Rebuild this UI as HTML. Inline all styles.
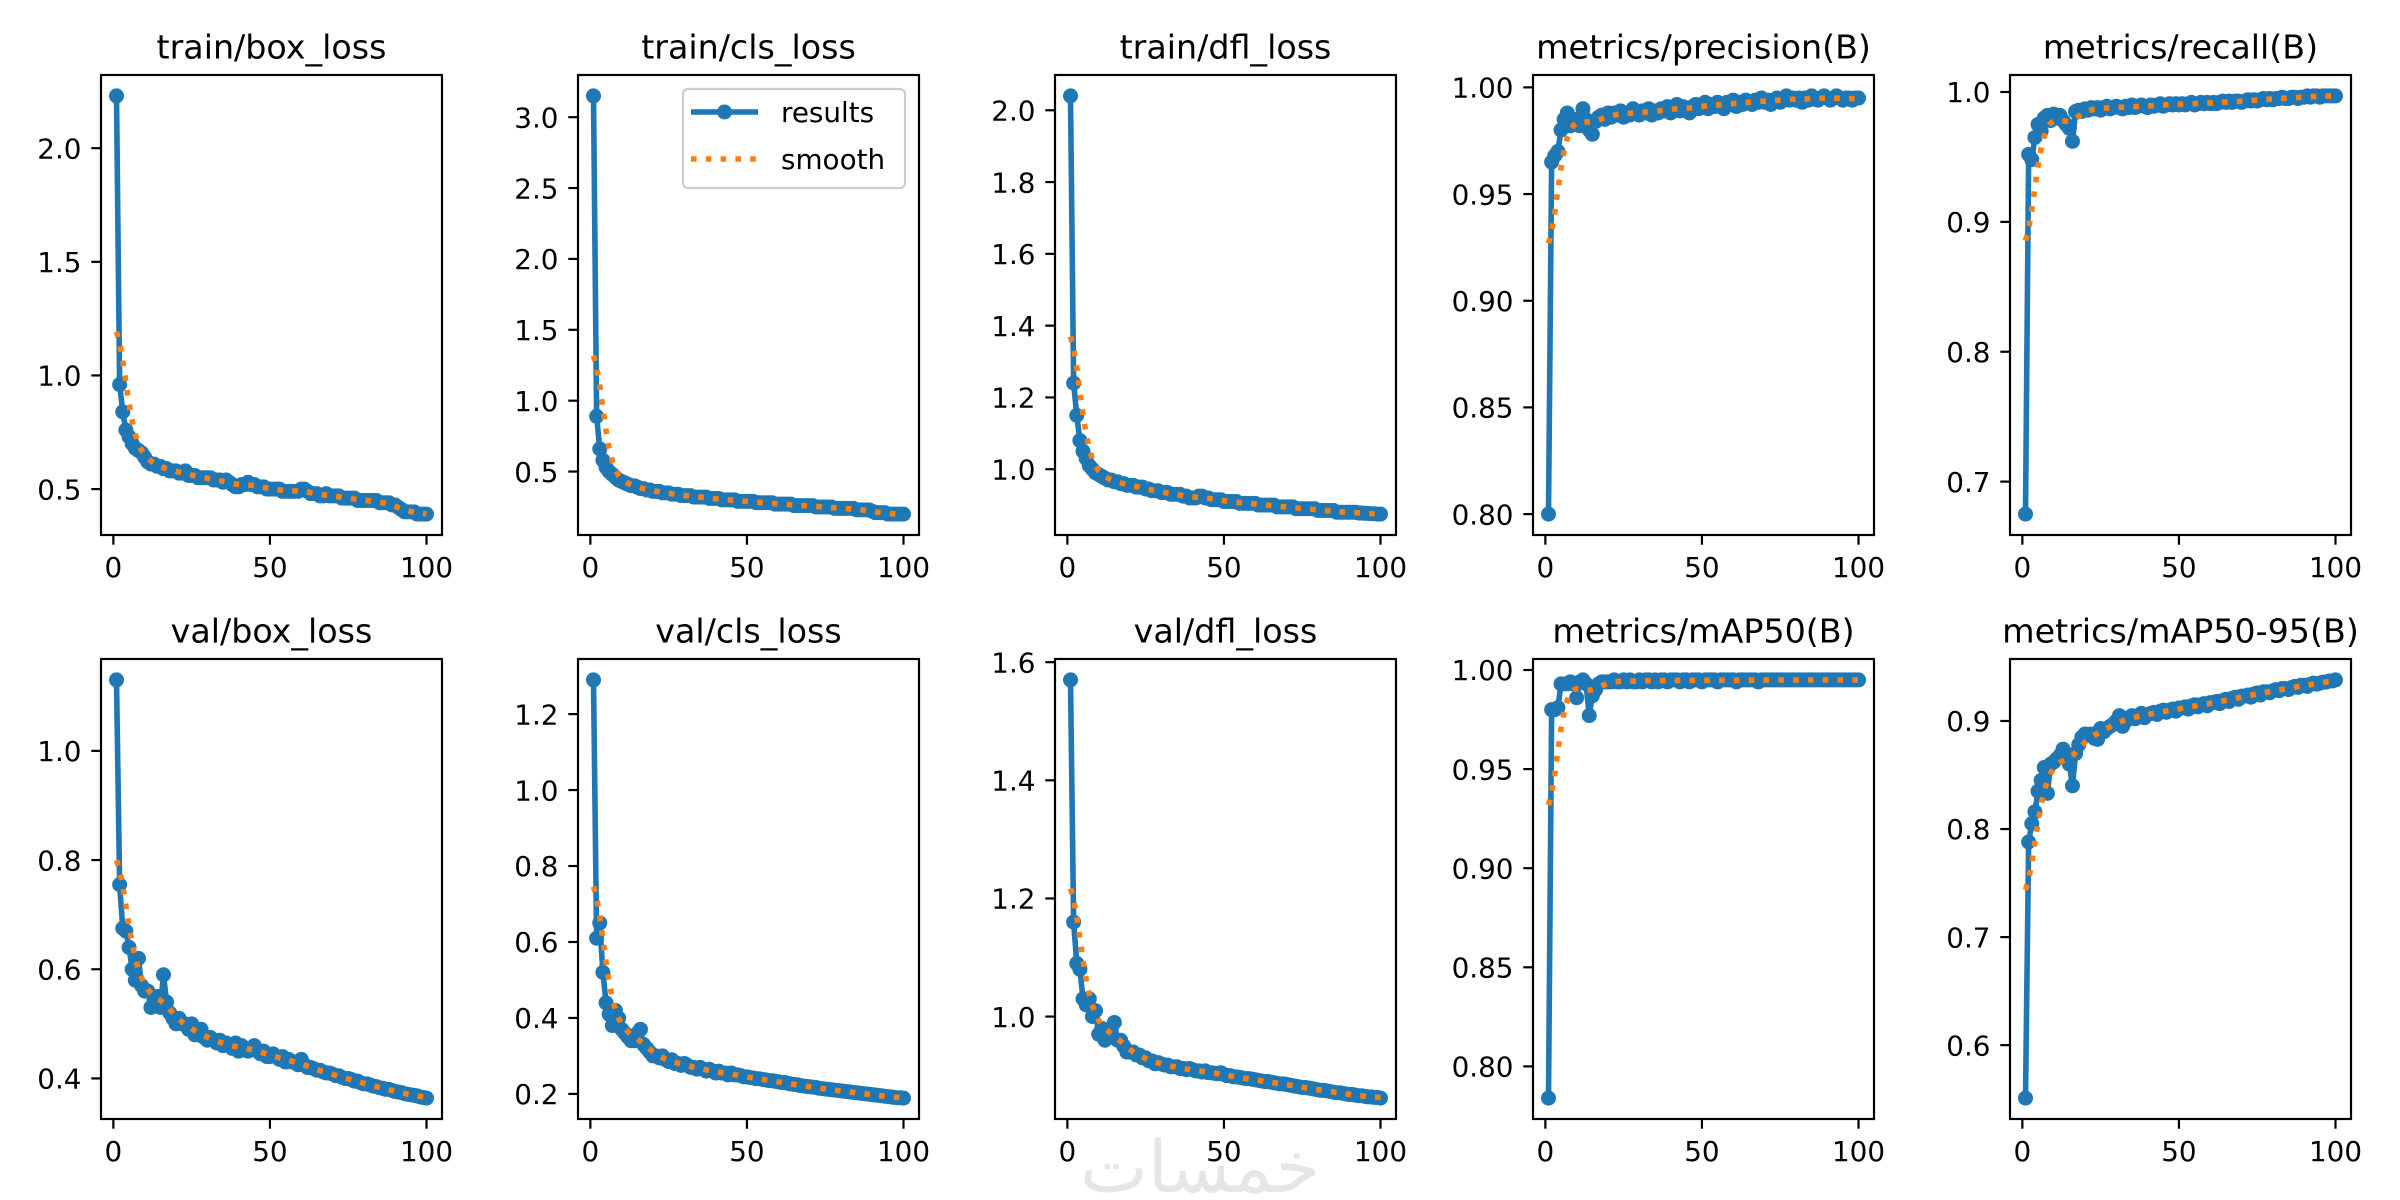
<!DOCTYPE html>
<html><head><meta charset="utf-8"><style>
html,body{margin:0;padding:0;background:#fff;}
svg{display:block;font-family:"DejaVu Sans","Liberation Sans",sans-serif;}
</style></head><body>
<svg id="fig" width="2400" height="1200" viewBox="0 0 2400 1200" xmlns="http://www.w3.org/2000/svg">
<rect width="2400" height="1200" fill="#fff"/>
<text x="1200" y="1192" text-anchor="middle" font-size="72" fill="#e6e6e6">خمسات</text>
</svg>
<script>
const titles = ["train/box_loss","train/cls_loss","train/dfl_loss","metrics/precision(B)","metrics/recall(B)","val/box_loss","val/cls_loss","val/dfl_loss","metrics/mAP50(B)","metrics/mAP50-95(B)"];
const xTicks = [0,50,100];
const yTicks0 = [0.5,1.0,1.5,2.0];
const yTicks1 = [0.5,1.0,1.5,2.0,2.5,3.0];
const yTicks2 = [1.0,1.2,1.4,1.6,1.8,2.0];
const yTicks3 = [0.80,0.85,0.90,0.95,1.00];
const yTicks4 = [0.7,0.8,0.9,1.0];
const yTicks5 = [0.4,0.6,0.8,1.0];
const yTicks6 = [0.2,0.4,0.6,0.8,1.0,1.2];
const yTicks7 = [1.0,1.2,1.4,1.6];
const yTicks8 = [0.80,0.85,0.90,0.95,1.00];
const yTicks9 = [0.6,0.7,0.8,0.9];
const tickDecimals = [1,1,1,2,1,1,1,1,2,1];

const trainBox = [2.23,0.96,0.84,0.76,0.73,0.70,0.68,0.67,0.66,0.64,0.62,0.61,0.61,0.60,0.60,0.59,0.59,0.58,0.58,0.58,0.57,0.57,0.58,0.56,0.56,0.56,0.55,0.55,0.55,0.55,0.55,0.54,0.54,0.54,0.53,0.54,0.53,0.52,0.51,0.51,0.52,0.52,0.53,0.52,0.52,0.51,0.51,0.51,0.50,0.50,0.50,0.50,0.50,0.49,0.49,0.49,0.49,0.49,0.49,0.50,0.50,0.49,0.48,0.48,0.48,0.47,0.47,0.48,0.47,0.47,0.47,0.47,0.46,0.46,0.46,0.46,0.46,0.45,0.45,0.45,0.45,0.45,0.45,0.45,0.44,0.44,0.44,0.44,0.43,0.43,0.42,0.41,0.40,0.40,0.40,0.40,0.39,0.39,0.39,0.39];
const trainCls = [3.15,0.89,0.66,0.58,0.53,0.50,0.48,0.46,0.44,0.43,0.42,0.41,0.40,0.40,0.39,0.38,0.38,0.37,0.37,0.36,0.36,0.36,0.35,0.35,0.35,0.34,0.34,0.34,0.33,0.33,0.33,0.33,0.32,0.32,0.32,0.32,0.32,0.31,0.31,0.31,0.31,0.30,0.30,0.30,0.30,0.30,0.29,0.29,0.29,0.29,0.29,0.29,0.28,0.28,0.28,0.28,0.28,0.28,0.27,0.27,0.27,0.27,0.27,0.27,0.26,0.26,0.26,0.26,0.26,0.26,0.26,0.25,0.25,0.25,0.25,0.25,0.25,0.24,0.24,0.24,0.24,0.24,0.24,0.24,0.23,0.23,0.23,0.23,0.23,0.22,0.21,0.21,0.21,0.21,0.20,0.20,0.20,0.20,0.20,0.20];
const trainDfl = [2.04,1.24,1.15,1.08,1.05,1.03,1.01,1.00,0.99,0.985,0.98,0.975,0.97,0.97,0.965,0.965,0.96,0.96,0.955,0.955,0.955,0.95,0.95,0.95,0.945,0.945,0.94,0.94,0.94,0.935,0.935,0.935,0.93,0.93,0.93,0.93,0.925,0.925,0.92,0.92,0.92,0.925,0.925,0.92,0.92,0.915,0.915,0.915,0.915,0.91,0.91,0.91,0.91,0.91,0.905,0.905,0.905,0.905,0.905,0.905,0.90,0.90,0.90,0.90,0.90,0.90,0.895,0.895,0.895,0.895,0.895,0.895,0.89,0.89,0.89,0.89,0.89,0.89,0.89,0.885,0.885,0.885,0.885,0.885,0.885,0.88,0.88,0.88,0.88,0.88,0.88,0.88,0.878,0.878,0.877,0.877,0.876,0.876,0.875,0.875];
const precision = [0.800,0.965,0.968,0.970,0.980,0.985,0.988,0.982,0.983,0.985,0.982,0.990,0.985,0.980,0.978,0.984,0.986,0.987,0.985,0.988,0.986,0.988,0.987,0.989,0.986,0.988,0.987,0.990,0.988,0.987,0.989,0.988,0.990,0.987,0.989,0.988,0.990,0.989,0.991,0.988,0.990,0.992,0.989,0.991,0.990,0.988,0.991,0.992,0.990,0.991,0.993,0.990,0.992,0.991,0.993,0.992,0.990,0.993,0.992,0.994,0.991,0.993,0.992,0.994,0.993,0.992,0.994,0.993,0.995,0.993,0.994,0.992,0.994,0.995,0.993,0.994,0.996,0.994,0.995,0.994,0.995,0.993,0.995,0.994,0.996,0.995,0.994,0.995,0.996,0.995,0.994,0.995,0.996,0.995,0.994,0.995,0.995,0.994,0.995,0.995];
const recall = [0.675,0.952,0.948,0.965,0.975,0.970,0.980,0.982,0.978,0.983,0.980,0.982,0.978,0.975,0.972,0.962,0.985,0.986,0.985,0.987,0.986,0.988,0.987,0.988,0.986,0.988,0.989,0.987,0.988,0.989,0.988,0.987,0.989,0.988,0.990,0.988,0.989,0.990,0.989,0.988,0.990,0.989,0.990,0.991,0.989,0.990,0.991,0.990,0.991,0.990,0.991,0.990,0.991,0.992,0.990,0.991,0.992,0.991,0.992,0.991,0.992,0.991,0.992,0.993,0.992,0.993,0.992,0.993,0.993,0.992,0.993,0.994,0.993,0.994,0.993,0.994,0.995,0.994,0.995,0.994,0.995,0.995,0.996,0.995,0.995,0.996,0.996,0.995,0.996,0.996,0.997,0.996,0.997,0.997,0.996,0.997,0.997,0.997,0.997,0.997];
const valBox = [1.130,0.755,0.675,0.670,0.640,0.600,0.580,0.620,0.570,0.560,0.560,0.530,0.540,0.550,0.530,0.590,0.540,0.520,0.510,0.500,0.510,0.500,0.500,0.490,0.500,0.480,0.480,0.490,0.475,0.470,0.475,0.470,0.465,0.470,0.460,0.465,0.460,0.455,0.465,0.450,0.460,0.455,0.450,0.455,0.460,0.450,0.445,0.450,0.440,0.440,0.445,0.440,0.435,0.440,0.430,0.435,0.430,0.430,0.425,0.435,0.425,0.420,0.420,0.418,0.415,0.415,0.412,0.410,0.410,0.408,0.405,0.405,0.402,0.400,0.400,0.398,0.395,0.395,0.392,0.390,0.390,0.388,0.386,0.385,0.383,0.382,0.380,0.380,0.378,0.376,0.375,0.374,0.372,0.371,0.370,0.369,0.368,0.366,0.365,0.364];
const valCls = [1.290,0.610,0.650,0.520,0.440,0.410,0.380,0.420,0.400,0.370,0.360,0.350,0.340,0.340,0.360,0.370,0.330,0.320,0.310,0.300,0.300,0.295,0.300,0.290,0.285,0.290,0.280,0.280,0.275,0.280,0.275,0.270,0.270,0.265,0.270,0.265,0.260,0.265,0.260,0.255,0.260,0.255,0.255,0.250,0.255,0.250,0.250,0.248,0.245,0.245,0.243,0.242,0.240,0.240,0.238,0.237,0.235,0.235,0.233,0.232,0.230,0.230,0.228,0.226,0.225,0.224,0.222,0.221,0.220,0.219,0.218,0.217,0.215,0.214,0.213,0.212,0.211,0.210,0.209,0.208,0.207,0.206,0.205,0.204,0.203,0.202,0.201,0.200,0.199,0.198,0.197,0.196,0.195,0.194,0.193,0.192,0.191,0.190,0.190,0.189];
const valDfl = [1.570,1.160,1.090,1.080,1.030,1.020,1.030,1.000,1.010,0.970,0.980,0.960,0.970,0.980,0.990,0.960,0.960,0.950,0.940,0.940,0.940,0.935,0.935,0.930,0.930,0.925,0.925,0.920,0.922,0.920,0.918,0.918,0.915,0.915,0.915,0.912,0.912,0.910,0.912,0.910,0.908,0.908,0.906,0.908,0.905,0.905,0.904,0.903,0.905,0.902,0.900,0.900,0.898,0.898,0.897,0.896,0.895,0.895,0.894,0.893,0.892,0.891,0.890,0.890,0.889,0.888,0.887,0.886,0.886,0.885,0.884,0.883,0.882,0.881,0.880,0.880,0.879,0.878,0.877,0.876,0.875,0.875,0.874,0.873,0.872,0.871,0.871,0.870,0.869,0.868,0.868,0.867,0.866,0.866,0.865,0.864,0.864,0.863,0.863,0.862];
const mAP50 = [0.784,0.980,0.980,0.981,0.993,0.993,0.993,0.994,0.993,0.986,0.994,0.995,0.993,0.977,0.987,0.990,0.993,0.994,0.994,0.994,0.994,0.995,0.994,0.994,0.995,0.994,0.995,0.994,0.994,0.995,0.994,0.995,0.995,0.994,0.995,0.994,0.995,0.995,0.994,0.995,0.995,0.995,0.994,0.995,0.995,0.994,0.995,0.995,0.995,0.994,0.995,0.995,0.995,0.995,0.994,0.995,0.995,0.995,0.995,0.995,0.994,0.995,0.995,0.995,0.995,0.995,0.995,0.994,0.995,0.995,0.995,0.995,0.995,0.995,0.995,0.995,0.995,0.995,0.995,0.995,0.995,0.995,0.995,0.995,0.995,0.995,0.995,0.995,0.995,0.995,0.995,0.995,0.995,0.995,0.995,0.995,0.995,0.995,0.995,0.995];
const mAP5095 = [0.551,0.788,0.805,0.816,0.835,0.845,0.857,0.833,0.860,0.862,0.865,0.868,0.874,0.865,0.860,0.840,0.870,0.878,0.885,0.888,0.887,0.888,0.884,0.883,0.893,0.890,0.893,0.895,0.897,0.900,0.905,0.895,0.900,0.903,0.905,0.902,0.905,0.907,0.903,0.906,0.907,0.908,0.906,0.909,0.910,0.908,0.910,0.911,0.909,0.912,0.912,0.913,0.911,0.914,0.915,0.913,0.915,0.916,0.914,0.917,0.917,0.918,0.916,0.919,0.920,0.918,0.921,0.922,0.920,0.923,0.923,0.924,0.922,0.925,0.926,0.924,0.927,0.927,0.926,0.928,0.929,0.928,0.930,0.930,0.929,0.931,0.932,0.931,0.933,0.933,0.932,0.934,0.935,0.934,0.935,0.936,0.936,0.937,0.937,0.938];

const seriesList = [trainBox,trainCls,trainDfl,precision,recall,valBox,valCls,valDfl,mAP50,mAP5095];
const tickList = [yTicks0,yTicks1,yTicks2,yTicks3,yTicks4,yTicks5,yTicks6,yTicks7,yTicks8,yTicks9];

const NS = "http://www.w3.org/2000/svg";
const svg = document.getElementById('fig');
function mk(tag, attrs, parent){const e=document.createElementNS(NS,tag);for(const k in attrs)e.setAttribute(k,attrs[k]);(parent||svg).appendChild(e);return e;}

function gaussSmooth(y, sigma){
  const r = Math.round(4*sigma), n=y.length, w=[];
  let s=0; for(let k=-r;k<=r;k++){const v=Math.exp(-0.5*k*k/(sigma*sigma));w.push(v);s+=v;}
  const out=[];
  for(let i=0;i<n;i++){let acc=0;
    for(let k=-r;k<=r;k++){let j=i+k;
      while(j<0||j>=n){ if(j<0) j=-j-1; if(j>=n) j=2*n-j-1; }
      acc+=w[k+r]*y[j];}
    out.push(acc/s);}
  return out;
}

const colLeft=[101,578,1055,1533,2010], W=341, rowTop=[75,659], H=460;
const FS=27.8, TFS=33.3;

for(let p=0;p<10;p++){
  const data=seriesList[p], ticks=tickList[p];
  const L=colLeft[p%5], T=rowTop[Math.floor(p/5)], R=L+W, B=T+H;
  const g=mk('g',{});
  
  
  const n=data.length, xs=data.map((_,i)=>i+1);
  const xmin=1-0.05*(n-1), xmax=n+0.05*(n-1);
  const smooth=gaussSmooth(data,3);
  let ymin=Math.min(...data,...smooth), ymax=Math.max(...data,...smooth);
  const m=0.05*(ymax-ymin); ymin-=m; ymax+=m;
  const sx=v=>L+(v-xmin)/(xmax-xmin)*W;
  const sy=v=>B-(v-ymin)/(ymax-ymin)*H;
  // series
  const line=mk('polyline',{points:xs.map((x,i)=>sx(x).toFixed(2)+','+sy(data[i]).toFixed(2)).join(' '),fill:'none',stroke:'#1f77b4','stroke-width':5.6,'stroke-linejoin':'round','stroke-linecap':'square'},g);
  
  
  data.forEach((v,i)=>{
    const c=mk('circle',{cx:sx(xs[i]).toFixed(2),cy:sy(v).toFixed(2),r:7.5,fill:'#1f77b4'},g);
    
    
  });
  const sm=mk('polyline',{points:xs.map((x,i)=>sx(x).toFixed(2)+','+sy(smooth[i]).toFixed(2)).join(' '),fill:'none',stroke:'#ff7f0e','stroke-width':5.6,'stroke-dasharray':'5.6 9.2'},g);
  
  
  // frame
  const fr=mk('rect',{x:L,y:T,width:W,height:H,fill:'none',stroke:'#000','stroke-width':2.2},g);
  
  
  // x ticks
  xTicks.forEach(t=>{const x=sx(t);
    mk('line',{x1:x,y1:B,x2:x,y2:B+9.7,stroke:'#000','stroke-width':2.2},g);
    const tx=mk('text',{x:x,y:B+42,'text-anchor':'middle','font-size':FS,fill:'#000'},g);
    tx.textContent=t;
    
    
  });
  ticks.forEach(t=>{const y=sy(t);
    mk('line',{x1:L-9.7,y1:y,x2:L,y2:y,stroke:'#000','stroke-width':2.2},g);
    const ty=mk('text',{x:L-19.5,y:y+10.2,'text-anchor':'end','font-size':FS,fill:'#000'},g);
    ty.textContent=t.toFixed(tickDecimals[p]);
    
    
  });
  const tt=mk('text',{x:L+W/2,y:T-16.7,'text-anchor':'middle','font-size':TFS,fill:'#000'},g);
  tt.textContent=titles[p];
  
  
}

// legend in second subplot
const lg=mk('g',{});


mk('rect',{x:683,y:89,width:222,height:99,rx:5,fill:'#fff','fill-opacity':0.8,stroke:'#cccccc','stroke-width':2.2},lg);
mk('line',{x1:691,y1:112,x2:758,y2:112,stroke:'#1f77b4','stroke-width':5.6},lg);
mk('circle',{cx:724.5,cy:112,r:7.5,fill:'#1f77b4'},lg);
const l1=mk('text',{x:781,y:122,'font-size':FS,fill:'#000'},lg);l1.textContent='results';


mk('line',{x1:691,y1:159,x2:758,y2:159,stroke:'#ff7f0e','stroke-width':5.6,'stroke-dasharray':'5.6 9.2'},lg);
const l2=mk('text',{x:781,y:169,'font-size':FS,fill:'#000'},lg);l2.textContent='smooth';


</script>
</body></html>
